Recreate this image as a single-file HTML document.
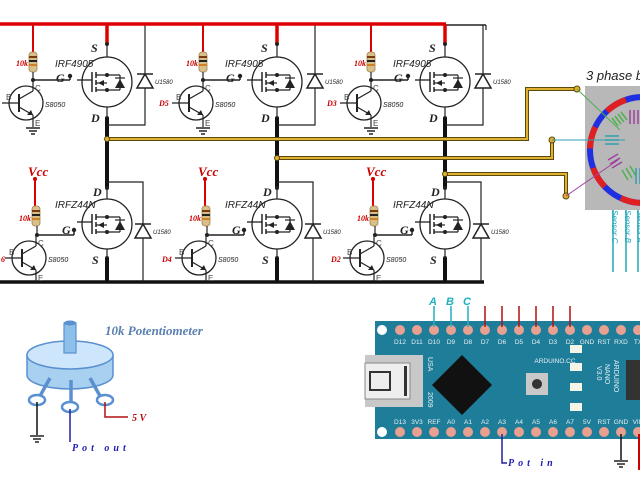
<!DOCTYPE html>
<html><head><meta charset="utf-8"><style>
html,body{margin:0;padding:0;background:#fff;}
svg{display:block;}
text{font-family:"Liberation Sans",sans-serif;}
.it{font-family:"Liberation Serif",serif;font-style:italic;font-weight:bold;}
.sm{fill:#222;font-style:italic;}
</style></head><body>
<svg width="640" height="480" viewBox="0 0 640 480" xmlns="http://www.w3.org/2000/svg">
<defs>
<g id="res">
  <rect x="-4" y="0" width="8" height="20" rx="3" fill="#d8c08a" stroke="#a08050" stroke-width="0.8"/>
  <rect x="-4" y="4" width="8" height="2" fill="#7a3a10"/>
  <rect x="-4" y="8" width="8" height="2" fill="#222"/>
  <rect x="-4" y="12" width="8" height="2" fill="#d08020"/>
</g>
<g id="npn">
  <circle cx="0" cy="0" r="17" fill="none" stroke="#222" stroke-width="1.3"/>
  <line x1="-7" y1="-9" x2="-7" y2="9" stroke="#222" stroke-width="2"/>
  <line x1="-24" y1="0" x2="-7" y2="0" stroke="#222" stroke-width="1.2"/>
  <line x1="-7" y1="-4" x2="7" y2="-12" stroke="#222" stroke-width="1.2"/>
  <line x1="-7" y1="4" x2="7" y2="12" stroke="#222" stroke-width="1.2"/>
  <polygon points="7,12 1,12 5,7" fill="#222"/>
  <line x1="7" y1="-12" x2="7" y2="-23" stroke="#222" stroke-width="1.2"/>
  <line x1="7" y1="12" x2="7" y2="24" stroke="#222" stroke-width="1.2"/>
  <text x="9" y="-12" font-size="8" fill="#444">C</text>
  <text x="9" y="23" font-size="8" fill="#444">E</text>
  <text x="-20" y="-3" font-size="8" fill="#444">B</text>
  <text x="19" y="4" class="sm" font-size="7">S8050</text>
</g>
<g id="fet">
  <circle cx="0" cy="0" r="25" fill="#fff" stroke="#222" stroke-width="1.3"/>
  <line x1="-15" y1="-10" x2="-15" y2="10" stroke="#222" stroke-width="1.5"/>
  <line x1="-11" y1="-10" x2="-11" y2="-4" stroke="#222" stroke-width="1.5"/>
  <line x1="-11" y1="-2" x2="-11" y2="3" stroke="#222" stroke-width="1.5"/>
  <line x1="-11" y1="5" x2="-11" y2="10" stroke="#222" stroke-width="1.5"/>
  <line x1="-11" y1="-7" x2="13" y2="-7" stroke="#222" stroke-width="1.2"/>
  <line x1="-11" y1="8" x2="13" y2="8" stroke="#222" stroke-width="1.2"/>
  <line x1="-11" y1="1" x2="0" y2="1" stroke="#222" stroke-width="1.2"/>
  <polygon points="-9,1 -3,-2 -3,4" fill="#222"/>
  <line x1="13" y1="-7" x2="13" y2="8" stroke="#222" stroke-width="1.2"/>
  <polygon points="8,6 18,6 13,-3" fill="#222"/>
  <line x1="8" y1="-4" x2="18" y2="-4" stroke="#222" stroke-width="1.2"/>
  <circle cx="0" cy="-7" r="2" fill="#222"/><circle cx="0" cy="8" r="2" fill="#222"/>
  <line x1="-15" y1="-2" x2="-30" y2="-2" stroke="#222" stroke-width="1.3"/>
</g>
<g id="dio">
  <polygon points="-8,8 8,8 0,-6" fill="#fff" stroke="#222" stroke-width="1.5"/>
  <line x1="-8" y1="-6" x2="8" y2="-6" stroke="#222" stroke-width="1.5"/>
  <text x="10" y="4" class="sm" font-size="6">U1580</text>
</g>
<g id="gnd">
  <line x1="-7" y1="0" x2="7" y2="0" stroke="#222" stroke-width="1.5"/>
  <line x1="-4" y1="3" x2="4" y2="3" stroke="#222" stroke-width="1.5"/>
  <line x1="-2" y1="6" x2="2" y2="6" stroke="#222" stroke-width="1.5"/>
</g>
<g id="stage">
  <line x1="33" y1="24" x2="33" y2="52" stroke="#d00" stroke-width="2"/>
  <use href="#res" x="33" y="52"/>
  <text x="16" y="66" class="it" font-size="8" fill="#c00">10k</text>
  <line x1="33" y1="72" x2="33" y2="81" stroke="#222" stroke-width="1.2"/>
  <circle cx="33" cy="80" r="2" fill="#222"/>
  <line x1="33" y1="80" x2="70" y2="80" stroke="#222" stroke-width="1.5"/>
  <line x1="70" y1="76" x2="70" y2="80" stroke="#222" stroke-width="1.5"/>
  <circle cx="70" cy="76" r="2.2" fill="#222"/>
  <text x="56" y="82" class="it" font-size="12" fill="#222">G</text>
  <use href="#npn" x="26" y="103"/>
  <use href="#gnd" x="33" y="128"/>
  <line x1="107" y1="24" x2="107" y2="44" stroke="#d00" stroke-width="3.5"/>
  <line x1="107" y1="44" x2="107" y2="118" stroke="#222" stroke-width="1.2"/>
  <use href="#fet" x="107" y="82"/>
  <circle cx="107" cy="44" r="2" fill="#222"/><circle cx="107" cy="118" r="2" fill="#222"/>
  <text x="91" y="52" class="it" font-size="12" fill="#222">S</text>
  <text x="91" y="122" class="it" font-size="12" fill="#222">D</text>
  <text x="55" y="67" class="sm" font-size="10">IRF4905</text>
  <line x1="107" y1="118" x2="107" y2="188" stroke="#111" stroke-width="4"/>
  <polyline points="145,25 145,125 107,125" fill="none" stroke="#222" stroke-width="1.2"/>
  <use href="#dio" x="145" y="80"/>
  <text x="28" y="176" class="it" font-size="13" fill="#c00">Vcc</text>
  <circle cx="35" cy="179" r="2" fill="#c00"/>
  <line x1="35" y1="179" x2="35" y2="206" stroke="#d00" stroke-width="2"/>
  <use href="#res" x="36" y="206"/>
  <text x="19" y="221" class="it" font-size="8" fill="#c00">10k</text>
  <line x1="37" y1="226" x2="37" y2="236" stroke="#222" stroke-width="1.2"/>
  <circle cx="37" cy="235" r="2" fill="#222"/>
  <line x1="37" y1="235" x2="74" y2="235" stroke="#222" stroke-width="1.5"/>
  <line x1="74" y1="230" x2="74" y2="235" stroke="#222" stroke-width="1.5"/>
  <circle cx="74" cy="230" r="2.2" fill="#222"/>
  <text x="62" y="234" class="it" font-size="12" fill="#222">G</text>
  <use href="#npn" x="29" y="258"/>
  <line x1="107" y1="188" x2="107" y2="258" stroke="#222" stroke-width="1.2"/>
  <use href="#fet" x="107" y="224"/>
  <circle cx="107" cy="188" r="2" fill="#222"/><circle cx="107" cy="258" r="2" fill="#222"/>
  <text x="93" y="196" class="it" font-size="12" fill="#222">D</text>
  <text x="92" y="264" class="it" font-size="12" fill="#222">S</text>
  <text x="55" y="208" class="sm" font-size="10">IRFZ44N</text>
  <line x1="107" y1="258" x2="107" y2="282" stroke="#111" stroke-width="4"/>
  <polyline points="107,182 143,182 143,282" fill="none" stroke="#222" stroke-width="1.2"/>
  <use href="#dio" x="143" y="230"/>
</g>
</defs>

<line x1="445" y1="25" x2="486" y2="25" stroke="#222" stroke-width="1.5"/>
<line x1="486" y1="25" x2="486" y2="30" stroke="#222" stroke-width="1.2"/>
<line x1="0" y1="282" x2="484" y2="282" stroke="#111" stroke-width="3.5"/>
<use href="#stage" x="0" y="0"/>
<use href="#stage" x="170" y="0"/>
<use href="#stage" x="338" y="0"/>
<line x1="0" y1="24" x2="446" y2="24" stroke="#d00" stroke-width="3.5"/>
<text x="159" y="106" class="it" font-size="8" fill="#c00">D5</text>
<text x="327" y="106" class="it" font-size="8" fill="#c00">D3</text>
<text x="1" y="262" class="it" font-size="8" fill="#c00">6</text>
<text x="162" y="262" class="it" font-size="8" fill="#c00">D4</text>
<text x="331" y="262" class="it" font-size="8" fill="#c00">D2</text>

<g fill="none" stroke-linejoin="miter">
<polyline points="107,139 527,139 527,89 577,89" stroke="#5a4a10" stroke-width="4"/>
<polyline points="107,139 527,139 527,89 577,89" stroke="#e0b030" stroke-width="2"/>
<polyline points="277,158 552,158 552,140" stroke="#5a4a10" stroke-width="4"/>
<polyline points="277,158 552,158 552,140" stroke="#e0b030" stroke-width="2"/>
<polyline points="445,174 566,174 566,196" stroke="#5a4a10" stroke-width="4"/>
<polyline points="445,174 566,174 566,196" stroke="#e0b030" stroke-width="2"/>
</g>
<g fill="#e0b030" stroke="#5a4a10" stroke-width="1">
<circle cx="107" cy="139" r="2.5"/><circle cx="277" cy="158" r="2.5"/><circle cx="445" cy="174" r="2.5"/>
<circle cx="577" cy="89" r="3"/><circle cx="552" cy="140" r="3"/><circle cx="566" cy="196" r="3"/>
</g>

<text x="586" y="80" font-size="13" fill="#222" font-style="italic">3 phase bldc</text>
<rect x="585" y="86" width="60" height="124" fill="#b8b8b8"/>
<circle cx="643" cy="150" r="53" fill="none" stroke="#2030e0" stroke-width="6"/>
<circle cx="643" cy="150" r="53" fill="none" stroke="#e02020" stroke-width="6" stroke-dasharray="22 20"/>
<g fill="none" stroke-width="1">
<line x1="577" y1="89" x2="620" y2="130" stroke="#50b050"/>
<line x1="552" y1="140" x2="625" y2="140" stroke="#30a0b0"/>
<line x1="566" y1="196" x2="618" y2="160" stroke="#a040a0"/>
<path d="M612,118 l6,8 m-3,-10 l6,8 m-3,-10 l6,8 m-3,-10 l6,8" stroke="#50b050" stroke-width="1.5"/>
<path d="M605,140 h14 M605,144 h14 M605,136 h14" stroke="#30a0b0" stroke-width="1.5"/>
<path d="M608,160 l10,-6 m-8,10 l10,-6 m-8,10 l10,-6" stroke="#a040a0" stroke-width="1.5"/>
<path d="M622,170 l6,10 m-2,-12 l6,10 m-2,-12 l6,10" stroke="#50b050" stroke-width="1.5"/>
<path d="M630,110 v14 M634,110 v14 M638,110 v14" stroke="#a040a0" stroke-width="1.5"/>
<path d="M636,168 v16 M640,168 v16" stroke="#30a0b0" stroke-width="1.5"/>
</g>
<g stroke="#20a8b8" stroke-width="1.5">
<line x1="613" y1="210" x2="613" y2="272"/><line x1="626" y1="210" x2="626" y2="272"/><line x1="638" y1="210" x2="638" y2="272"/>
</g>
<g font-size="8" fill="#20a8b8" font-style="italic">
<text transform="translate(612,210) rotate(90)">Sensor C</text>
<text transform="translate(625,210) rotate(90)">Sensor B</text>
<text transform="translate(637,210) rotate(90)">Sensor A</text>
</g>

<text x="105" y="335" class="it" font-size="13" fill="#5a80b0">10k Potentiometer</text>
<path d="M27,355 L27,375 A43,14 0 0 0 113,375 L113,355 Z" fill="#a8d0f0" stroke="#5a90d0" stroke-width="1.5"/>
<ellipse cx="70" cy="355" rx="43" ry="14" fill="#cde6fb" stroke="#5a90d0" stroke-width="1.5"/>
<rect x="64" y="323" width="12" height="30" fill="#8cc0ea" stroke="#5a90d0" stroke-width="1.2"/>
<ellipse cx="70" cy="323" rx="6" ry="2.5" fill="#5a90d0"/>
<g stroke="#5a90d0" stroke-width="3.5" fill="none">
<line x1="50" y1="378" x2="40" y2="396"/><line x1="71" y1="380" x2="71" y2="402"/><line x1="90" y1="378" x2="100" y2="396"/>
<ellipse cx="37" cy="400" rx="8" ry="5" stroke-width="2.5"/>
<ellipse cx="70" cy="407" rx="8" ry="5" stroke-width="2.5"/>
<ellipse cx="105" cy="400" rx="8" ry="5" stroke-width="2.5"/>
</g>
<line x1="37" y1="402" x2="37" y2="435" stroke="#111" stroke-width="1.5"/>
<use href="#gnd" x="37" y="436"/>
<line x1="70" y1="409" x2="70" y2="442" stroke="#2020a0" stroke-width="1.5"/>
<text x="72" y="451" class="it" font-size="10" fill="#2020b0" letter-spacing="4">Pot out</text>
<polyline points="105,402 105,417 128,417" fill="none" stroke="#b01010" stroke-width="1.5"/>
<text x="132" y="421" class="it" font-size="10" fill="#b01010">5 V</text>

<rect x="375" y="321" width="270" height="118" fill="#1e7d98"/>
<circle cx="382" cy="330" r="5" fill="#fff"/><circle cx="382" cy="432" r="5" fill="#fff"/>
<g fill="#e8a090">
<circle cx="400" cy="330" r="5"/><circle cx="417" cy="330" r="5"/><circle cx="434" cy="330" r="5"/><circle cx="451" cy="330" r="5"/><circle cx="468" cy="330" r="5"/><circle cx="485" cy="330" r="5"/><circle cx="502" cy="330" r="5"/><circle cx="519" cy="330" r="5"/><circle cx="536" cy="330" r="5"/><circle cx="553" cy="330" r="5"/><circle cx="570" cy="330" r="5"/><circle cx="587" cy="330" r="5"/><circle cx="604" cy="330" r="5"/><circle cx="621" cy="330" r="5"/><circle cx="638" cy="330" r="5"/>
<circle cx="400" cy="432" r="5"/><circle cx="417" cy="432" r="5"/><circle cx="434" cy="432" r="5"/><circle cx="451" cy="432" r="5"/><circle cx="468" cy="432" r="5"/><circle cx="485" cy="432" r="5"/><circle cx="502" cy="432" r="5"/><circle cx="519" cy="432" r="5"/><circle cx="536" cy="432" r="5"/><circle cx="553" cy="432" r="5"/><circle cx="570" cy="432" r="5"/><circle cx="587" cy="432" r="5"/><circle cx="604" cy="432" r="5"/><circle cx="621" cy="432" r="5"/><circle cx="638" cy="432" r="5"/>
</g>
<g font-family="Liberation Mono,monospace" font-size="6.5" fill="#e8f0f4" text-anchor="middle">
<text x="400" y="344">D12</text><text x="417" y="344">D11</text><text x="434" y="344">D10</text><text x="451" y="344">D9</text><text x="468" y="344">D8</text><text x="485" y="344">D7</text><text x="502" y="344">D6</text><text x="519" y="344">D5</text><text x="536" y="344">D4</text><text x="553" y="344">D3</text><text x="570" y="344">D2</text><text x="587" y="344">GND</text><text x="604" y="344">RST</text><text x="621" y="344">RXD</text><text x="638" y="344">TX</text>
<text x="400" y="424">D13</text><text x="417" y="424">3V3</text><text x="434" y="424">REF</text><text x="451" y="424">A0</text><text x="468" y="424">A1</text><text x="485" y="424">A2</text><text x="502" y="424">A3</text><text x="519" y="424">A4</text><text x="536" y="424">A5</text><text x="553" y="424">A6</text><text x="570" y="424">A7</text><text x="587" y="424">5V</text><text x="604" y="424">RST</text><text x="621" y="424">GND</text><text x="638" y="424">VIN</text>
<text x="555" y="363">ARDUINO.CC</text>
</g>
<rect x="365" y="355" width="58" height="52" fill="#c8c8c8"/>
<rect x="365" y="363" width="45" height="36" fill="#eee" stroke="#888"/>
<rect x="370" y="372" width="20" height="18" fill="none" stroke="#333" stroke-width="2"/>
<rect x="404" y="366" width="3" height="30" fill="#333"/>
<polygon points="462,355 492,385 462,415 432,385" fill="#111"/>
<rect x="526" y="373" width="22" height="22" fill="#c8c8c8"/><circle cx="537" cy="384" r="5" fill="#333"/>
<g fill="#f4f4e8"><rect x="570" y="345" width="12" height="8"/><rect x="570" y="363" width="12" height="8"/><rect x="570" y="383" width="12" height="8"/><rect x="570" y="403" width="12" height="8"/></g>
<rect x="626" y="360" width="14" height="40" fill="#333"/>
<g font-family="Liberation Mono,monospace" font-size="7" fill="#e8f0f4">
<text transform="translate(614,360) rotate(90)">ARDUINO</text>
<text transform="translate(605,364) rotate(90)">NANO</text>
<text transform="translate(597,366) rotate(90)">V3.0</text>
<text transform="translate(428,357) rotate(90)">USA</text>
<text transform="translate(428,392) rotate(90)">2009</text>
</g>
<g stroke="#20b0c0" stroke-width="1.5"><line x1="434" y1="306" x2="434" y2="327"/><line x1="451" y1="306" x2="451" y2="327"/><line x1="468" y1="306" x2="468" y2="327"/></g>
<g class="it" font-size="11" fill="#20b0c0"><text x="429" y="305">A</text><text x="446" y="305">B</text><text x="463" y="305">C</text></g>
<g stroke="#b01010" stroke-width="1.5"><line x1="485" y1="306" x2="485" y2="327"/><line x1="502" y1="306" x2="502" y2="327"/><line x1="519" y1="306" x2="519" y2="327"/><line x1="536" y1="306" x2="536" y2="327"/><line x1="553" y1="306" x2="553" y2="327"/><line x1="570" y1="306" x2="570" y2="327"/></g>
<polyline points="502,434 502,463 507,463" fill="none" stroke="#2020a0" stroke-width="1.5"/>
<text x="508" y="466" class="it" font-size="10" fill="#2020b0" letter-spacing="4">Pot in</text>
<line x1="621" y1="434" x2="621" y2="460" stroke="#111" stroke-width="1.5"/>
<use href="#gnd" x="621" y="461"/>
<line x1="639" y1="434" x2="639" y2="470" stroke="#c00" stroke-width="2"/>
</svg>
</body></html>
